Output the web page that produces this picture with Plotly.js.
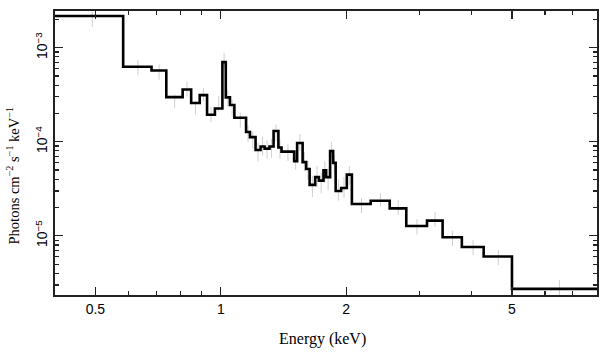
<!DOCTYPE html>
<html>
<head>
<meta charset="utf-8">
<script src="https://cdn.plot.ly/plotly-3.0.1.min.js"></script>
<style>html,body{margin:0;padding:0;background:#fff;}#chart{width:609px;height:357px;}</style>
</head>
<body>
<div id="chart"></div>
<script>
// Bin edges (keV)
const edges = [0.40, 0.583, 0.682, 0.740, 0.810, 0.849, 0.890, 0.927, 0.968, 1.009, 1.028,
  1.052, 1.078, 1.150, 1.175, 1.212, 1.246, 1.274, 1.309, 1.339, 1.375, 1.399, 1.500,
  1.525, 1.572, 1.603, 1.634, 1.685, 1.720, 1.764, 1.790, 1.830, 1.861, 1.887, 1.945,
  2.007, 2.064, 2.290, 2.544, 2.788, 3.126, 3.408, 3.790, 4.276, 5.00, 8.0];
// Folded model level in each bin (photons cm^-2 s^-1 keV^-1)
const model = [2.17e-3, 6.27e-4, 5.73e-4, 2.98e-4, 3.60e-4, 2.58e-4, 3.13e-4, 1.94e-4, 2.26e-4,
  7.02e-4, 2.96e-4, 2.46e-4, 1.80e-4, 1.27e-4, 1.12e-4, 8.16e-5, 8.89e-5, 8.46e-5, 8.89e-5,
  1.30e-4, 8.68e-5, 7.86e-5, 6.23e-5, 9.69e-5, 6.08e-5, 5.14e-5, 3.48e-5, 4.21e-5, 3.86e-5,
  4.97e-5, 4.21e-5, 7.96e-5, 5.96e-5, 3.00e-5, 3.23e-5, 4.47e-5, 2.18e-5, 2.36e-5, 1.96e-5,
  1.27e-5, 1.45e-5, 9.66e-6, 7.60e-6, 6.03e-6, 2.73e-6];
// Observed data points in each bin
const obs = [2.00e-3, 6.17e-4, 5.52e-4, 2.68e-4, 3.64e-4, 2.31e-4, 3.18e-4, 1.95e-4, 2.55e-4,
  7.33e-4, 2.90e-4, 2.30e-4, 1.70e-4, 1.22e-4, 1.05e-4, 7.80e-5, 9.10e-5, 8.30e-5, 8.60e-5,
  1.25e-4, 8.40e-5, 7.70e-5, 6.40e-5, 9.90e-5, 6.20e-5, 5.00e-5, 3.40e-5, 4.30e-5, 3.70e-5,
  4.80e-5, 4.00e-5, 8.20e-5, 5.70e-5, 3.10e-5, 3.30e-5, 4.40e-5, 2.10e-5, 2.40e-5, 2.00e-5,
  1.25e-5, 1.50e-5, 9.40e-6, 7.50e-6, 5.90e-6, 2.80e-6];
// Relative 1-sigma uncertainty of each data point
const relErr = [0.20, 0.20, 0.20, 0.18, 0.20, 0.18, 0.18, 0.20, 0.20,
  0.20, 0.22, 0.22, 0.20, 0.22, 0.22, 0.25, 0.25, 0.25, 0.25,
  0.22, 0.25, 0.22, 0.25, 0.22, 0.25, 0.25, 0.28, 0.28, 0.28,
  0.28, 0.28, 0.22, 0.25, 0.28, 0.28, 0.25, 0.20, 0.18, 0.20,
  0.20, 0.20, 0.20, 0.20, 0.20, 0.22];
const xTickVals = [0.5, 1, 2, 5];
const xTickText = ['0.5', '1', '2', '5'];
const xMinorVals = [0.4, 0.6, 0.7, 0.8, 0.9, 3, 4, 6, 7, 8];
const yTickVals = [1e-5, 1e-4, 1e-3];
const yTickText = ['10<sup>\u22125</sup>', '10<sup>\u22124</sup>', '10<sup>\u22123</sup>'];
const yMinorVals = [3e-6, 4e-6, 5e-6, 6e-6, 7e-6, 8e-6, 9e-6,
  2e-5, 3e-5, 4e-5, 5e-5, 6e-5, 7e-5, 8e-5, 9e-5,
  2e-4, 3e-4, 4e-4, 5e-4, 6e-4, 7e-4, 8e-4, 9e-4, 2e-3];
const xTitle = 'Energy (keV)';
const yTitle = 'Photons cm<sup>\u22122</sup> s<sup>\u22121</sup> keV<sup>\u22121</sup>';

const centers = model.map((_, i) => (edges[i] + edges[i + 1]) / 2);
const stepX = edges.slice();
const stepY = model.concat([model[model.length - 1]]);

const dataTrace = {
  x: centers, y: obs, type: 'scatter', mode: 'markers',
  marker: {size: 1, color: 'rgba(0,0,0,0)'},
  error_y: {type: 'data', symmetric: false,
    array: obs.map((v, i) => v * relErr[i]),
    arrayminus: obs.map((v, i) => v * relErr[i] * 0.85),
    color: '#cfcfcf', thickness: 1, width: 0},
  hoverinfo: 'skip', showlegend: false
};
const modelTrace = {
  x: stepX, y: stepY, type: 'scatter', mode: 'lines',
  line: {shape: 'hv', color: '#000', width: 2.6},
  showlegend: false
};

const axisCommon = {
  type: 'log', showgrid: false, zeroline: false,
  showline: true, linecolor: '#222', linewidth: 2, mirror: 'ticks',
  ticks: 'inside', ticklen: 8, tickwidth: 1.2, tickcolor: '#222',
  tickfont: {family: 'Liberation Sans, Arial, sans-serif', size: 14, color: '#000'},
  tickmode: 'array'
};
const titleFont = {family: 'Liberation Serif, Times New Roman, serif', color: '#000'};

const layout = {
  width: 609, height: 357,
  margin: {l: 55, r: 12, t: 11, b: 62},
  paper_bgcolor: '#fff', plot_bgcolor: '#fff',
  showlegend: false,
  xaxis: Object.assign({}, axisCommon, {
    range: [Math.log10(0.4), Math.log10(8.0)],
    tickvals: xTickVals, ticktext: xTickText,
    minor: {tickmode: 'array', tickvals: xMinorVals, ticks: 'inside', ticklen: 4, tickwidth: 1.2, tickcolor: '#222'}
  }),
  yaxis: Object.assign({}, axisCommon, {
    range: [-5.629, -2.61],
    tickvals: yTickVals, ticktext: yTickText, tickangle: -90,
    minor: {tickmode: 'array', tickvals: yMinorVals, ticks: 'inside', ticklen: 4, tickwidth: 1.2, tickcolor: '#222'}
  }),
  annotations: [
    {text: xTitle, xref: 'paper', yref: 'paper', x: 0.493, y: -0.155,
     xanchor: 'center', yanchor: 'middle', showarrow: false,
     font: Object.assign({size: 16}, titleFont)},
    {text: yTitle, xref: 'paper', yref: 'paper', x: -0.078, y: 0.42,
     xanchor: 'center', yanchor: 'middle', textangle: -90, showarrow: false,
     font: Object.assign({size: 14.5}, titleFont)}
  ]
};

Plotly.newPlot('chart', [dataTrace, modelTrace], layout, {displayModeBar: false, staticPlot: true});
</script>
</body>
</html>
